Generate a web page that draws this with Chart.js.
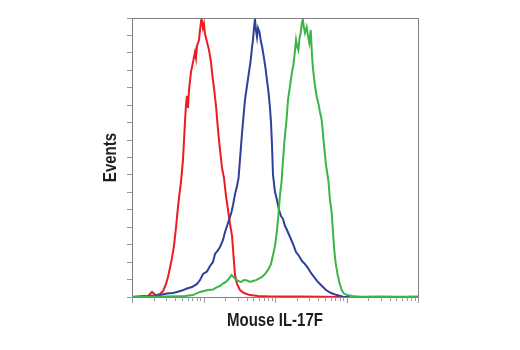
<!DOCTYPE html>
<html>
<head>
<meta charset="utf-8">
<script src="https://cdn.jsdelivr.net/npm/chart.js@4.4.1/dist/chart.umd.min.js"></script>
<style>
  html, body { margin: 0; padding: 0; background: #fff; }
  #wrap { width: 520px; height: 350px; }
</style>
</head>
<body>
<div id="wrap"><canvas id="chartHisto" width="520" height="350"></canvas></div>
<script>
// --- data: x = log10(channel), y = events (axis 0-16) ---
const redLog = [0, 0.112, 0.224, 0.280, 0.336, 0.392, 0.434, 0.476, 0.503, 0.531, 0.559, 0.587, 0.615, 0.636, 0.657, 0.685, 0.713, 0.741, 0.755, 0.769, 0.783, 0.797, 0.825, 0.853, 0.881, 0.895, 0.909, 0.937, 0.951, 0.972, 0.993, 1.007, 1.021, 1.049, 1.077, 1.105, 1.119, 1.147, 1.175, 1.203, 1.231, 1.259, 1.287, 1.315, 1.343, 1.371, 1.399, 1.420, 1.441, 1.469, 1.510, 1.566, 1.650, 1.762, 1.930, 2.350, 2.979];
const redCount = [0, 0.03, 0.06, 0.29, 0.09, 0.17, 0.34, 0.75, 1.15, 1.66, 2.24, 2.92, 3.96, 4.87, 5.68, 6.59, 7.86, 10.03, 11.01, 11.53, 10.84, 11.87, 12.90, 13.47, 14.05, 13.70, 14.39, 14.74, 15.31, 16.0, 15.42, 15.65, 15.08, 14.62, 14.16, 13.47, 12.90, 11.98, 10.95, 9.58, 8.43, 7.40, 6.82, 5.79, 4.99, 4.19, 3.50, 2.35, 1.26, 0.75, 0.40, 0.23, 0.11, 0.06, 0.03, 0.03, 0];

const blueLog = [0, 0.252, 0.392, 0.490, 0.573, 0.629, 0.699, 0.769, 0.839, 0.909, 0.951, 0.993, 1.049, 1.091, 1.133, 1.161, 1.203, 1.231, 1.273, 1.301, 1.329, 1.357, 1.392, 1.413, 1.441, 1.469, 1.490, 1.510, 1.531, 1.552, 1.580, 1.608, 1.636, 1.657, 1.678, 1.692, 1.706, 1.720, 1.734, 1.748, 1.762, 1.783, 1.804, 1.818, 1.846, 1.867, 1.888, 1.909, 1.930, 1.944, 1.958, 1.972, 2.000, 2.028, 2.056, 2.084, 2.112, 2.140, 2.168, 2.210, 2.252, 2.294, 2.336, 2.378, 2.420, 2.462, 2.503, 2.545, 2.587, 2.643, 2.713, 2.783, 2.867, 2.951, 3.049];
const blueCount = [0, 0.06, 0.11, 0.20, 0.23, 0.29, 0.37, 0.49, 0.57, 0.75, 0.97, 1.32, 1.46, 1.78, 2.01, 2.47, 2.69, 2.87, 3.27, 3.73, 4.07, 4.42, 4.87, 5.28, 5.90, 6.36, 6.82, 7.86, 9.00, 10.03, 11.30, 12.10, 12.90, 13.47, 14.28, 14.74, 15.42, 15.94, 15.31, 14.91, 15.42, 15.19, 14.62, 14.39, 13.70, 13.13, 12.44, 11.75, 10.84, 10.03, 8.72, 7.00, 6.02, 5.56, 4.99, 4.64, 4.47, 4.07, 3.84, 3.44, 3.04, 2.58, 2.35, 2.06, 1.89, 1.66, 1.38, 1.15, 0.92, 0.69, 0.40, 0.23, 0.11, 0.02, 0];

const greenLog = [0, 0.476, 0.741, 0.853, 0.951, 1.007, 1.063, 1.133, 1.189, 1.231, 1.273, 1.315, 1.350, 1.392, 1.420, 1.441, 1.483, 1.524, 1.566, 1.608, 1.650, 1.692, 1.734, 1.776, 1.818, 1.860, 1.902, 1.944, 1.972, 2.000, 2.028, 2.049, 2.070, 2.094, 2.112, 2.133, 2.161, 2.182, 2.210, 2.238, 2.259, 2.280, 2.294, 2.308, 2.326, 2.343, 2.359, 2.378, 2.387, 2.406, 2.420, 2.443, 2.462, 2.480, 2.500, 2.517, 2.531, 2.559, 2.587, 2.608, 2.629, 2.653, 2.685, 2.713, 2.746, 2.769, 2.793, 2.811, 2.825, 2.846, 2.871, 2.902, 2.933, 2.965, 3.007, 3.077, 3.189, 3.469, 3.748, 4.0];
const greenCount = [0, 0.03, 0.06, 0.11, 0.29, 0.34, 0.40, 0.43, 0.57, 0.63, 0.77, 0.86, 1.03, 1.26, 1.15, 1.06, 0.92, 0.86, 0.97, 0.95, 0.86, 0.92, 0.97, 1.06, 1.15, 1.32, 1.55, 1.89, 2.41, 2.92, 3.84, 4.76, 5.85, 6.71, 7.86, 9.00, 10.15, 11.30, 12.10, 12.90, 13.36, 14.16, 14.74, 14.39, 14.16, 14.85, 15.14, 15.77, 16.0, 15.42, 15.14, 15.48, 14.97, 14.57, 15.31, 13.88, 13.13, 12.10, 11.41, 11.07, 10.61, 10.15, 8.72, 7.57, 6.71, 5.56, 4.82, 3.73, 2.87, 2.01, 1.38, 0.80, 0.40, 0.20, 0.11, 0.06, 0.02, 0.03, 0.02, 0.03];

// log axis: decades and the steps inside each decade
const tickDecades = [1, 10, 100, 1000];
const tickSteps = [1, 2, 3, 4, 5, 6, 7, 8, 9];
const xTitle = "Mouse IL-17F";
const yTitle = "Events";

const toPoints = (logs, counts) => logs.map((d, i) => ({ x: Math.pow(10, d), y: counts[i] }));

const xTicks = [];
tickDecades.forEach(dec => tickSteps.forEach(s => xTicks.push({ value: dec * s, major: s === 1 })));
xTicks.push({ value: 10000, major: true });

// no condensed face installed -> squeeze Arial-style bold horizontally
const FONT = 'bold 18px "Liberation Sans", Arial, sans-serif';
const SQUEEZE = 0.835;

function squeezedText(ctx, text, x, y, angle) {
  ctx.save();
  ctx.translate(x, y);
  if (angle) ctx.rotate(angle);
  ctx.scale(SQUEEZE, 1);
  ctx.fillText(text, 0, 0);
  ctx.restore();
}

// frame (top/right), log ticks and axis titles
const extras = {
  id: "extras",
  afterDraw(chart) {
    const { ctx, chartArea: a } = chart;
    const xs = chart.scales.x;
    ctx.save();
    ctx.strokeStyle = "#808080";
    ctx.lineWidth = 1;
    ctx.beginPath();
    ctx.moveTo(a.left, a.top + 0.5);
    ctx.lineTo(a.right + 0.5, a.top + 0.5);
    ctx.lineTo(a.right + 0.5, a.bottom);
    ctx.stroke();

    ctx.strokeStyle = "#999";
    xTicks.forEach(t => {
      const px = Math.round(xs.getPixelForValue(t.value)) + 0.5;
      const len = t.major ? 6 : 4;
      ctx.beginPath();
      ctx.moveTo(px, a.bottom);
      ctx.lineTo(px, a.bottom + len);
      ctx.stroke();
    });

    ctx.fillStyle = "#1e1e1e";
    ctx.font = FONT;
    ctx.textAlign = "center";
    ctx.textBaseline = "alphabetic";
    squeezedText(ctx, xTitle, (a.left + a.right) / 2, 325.5, 0);
    squeezedText(ctx, yTitle, 115.5, (a.top + a.bottom) / 2, -Math.PI / 2);
    ctx.restore();
  }
};

const line = (data, color) => ({
  data, borderColor: color, borderWidth: 2, pointRadius: 0, tension: 0, fill: false
});

new Chart(document.getElementById("chartHisto"), {
  type: "line",
  data: {
    datasets: [
      line(toPoints(greenLog, greenCount), "#3bb54a"),
      line(toPoints(blueLog, blueCount), "#2f3f9c"),
      line(toPoints(redLog, redCount), "#ec1c24")
    ]
  },
  options: {
    responsive: false,
    animation: false,
    devicePixelRatio: 1,
    layout: { padding: { top: 18, right: 102, left: 0, bottom: 0 } },
    plugins: { legend: { display: false }, tooltip: { enabled: false } },
    scales: {
      x: {
        type: "logarithmic",
        min: 1,
        max: 10000,
        ticks: { display: false },
        grid: { display: false },
        border: { color: "#808080" },
        afterBuildTicks: s => { s.ticks = xTicks.map(t => ({ ...t })); },
        afterFit: s => { s.height = 53; }
      },
      y: {
        min: 0,
        max: 16,
        ticks: { display: false, stepSize: 1 },
        grid: { drawOnChartArea: false, tickLength: 5, color: "#999" },
        border: { color: "#808080" },
        afterFit: s => { s.width = 132; }
      }
    }
  },
  plugins: [extras]
});
</script>
</body>
</html>
